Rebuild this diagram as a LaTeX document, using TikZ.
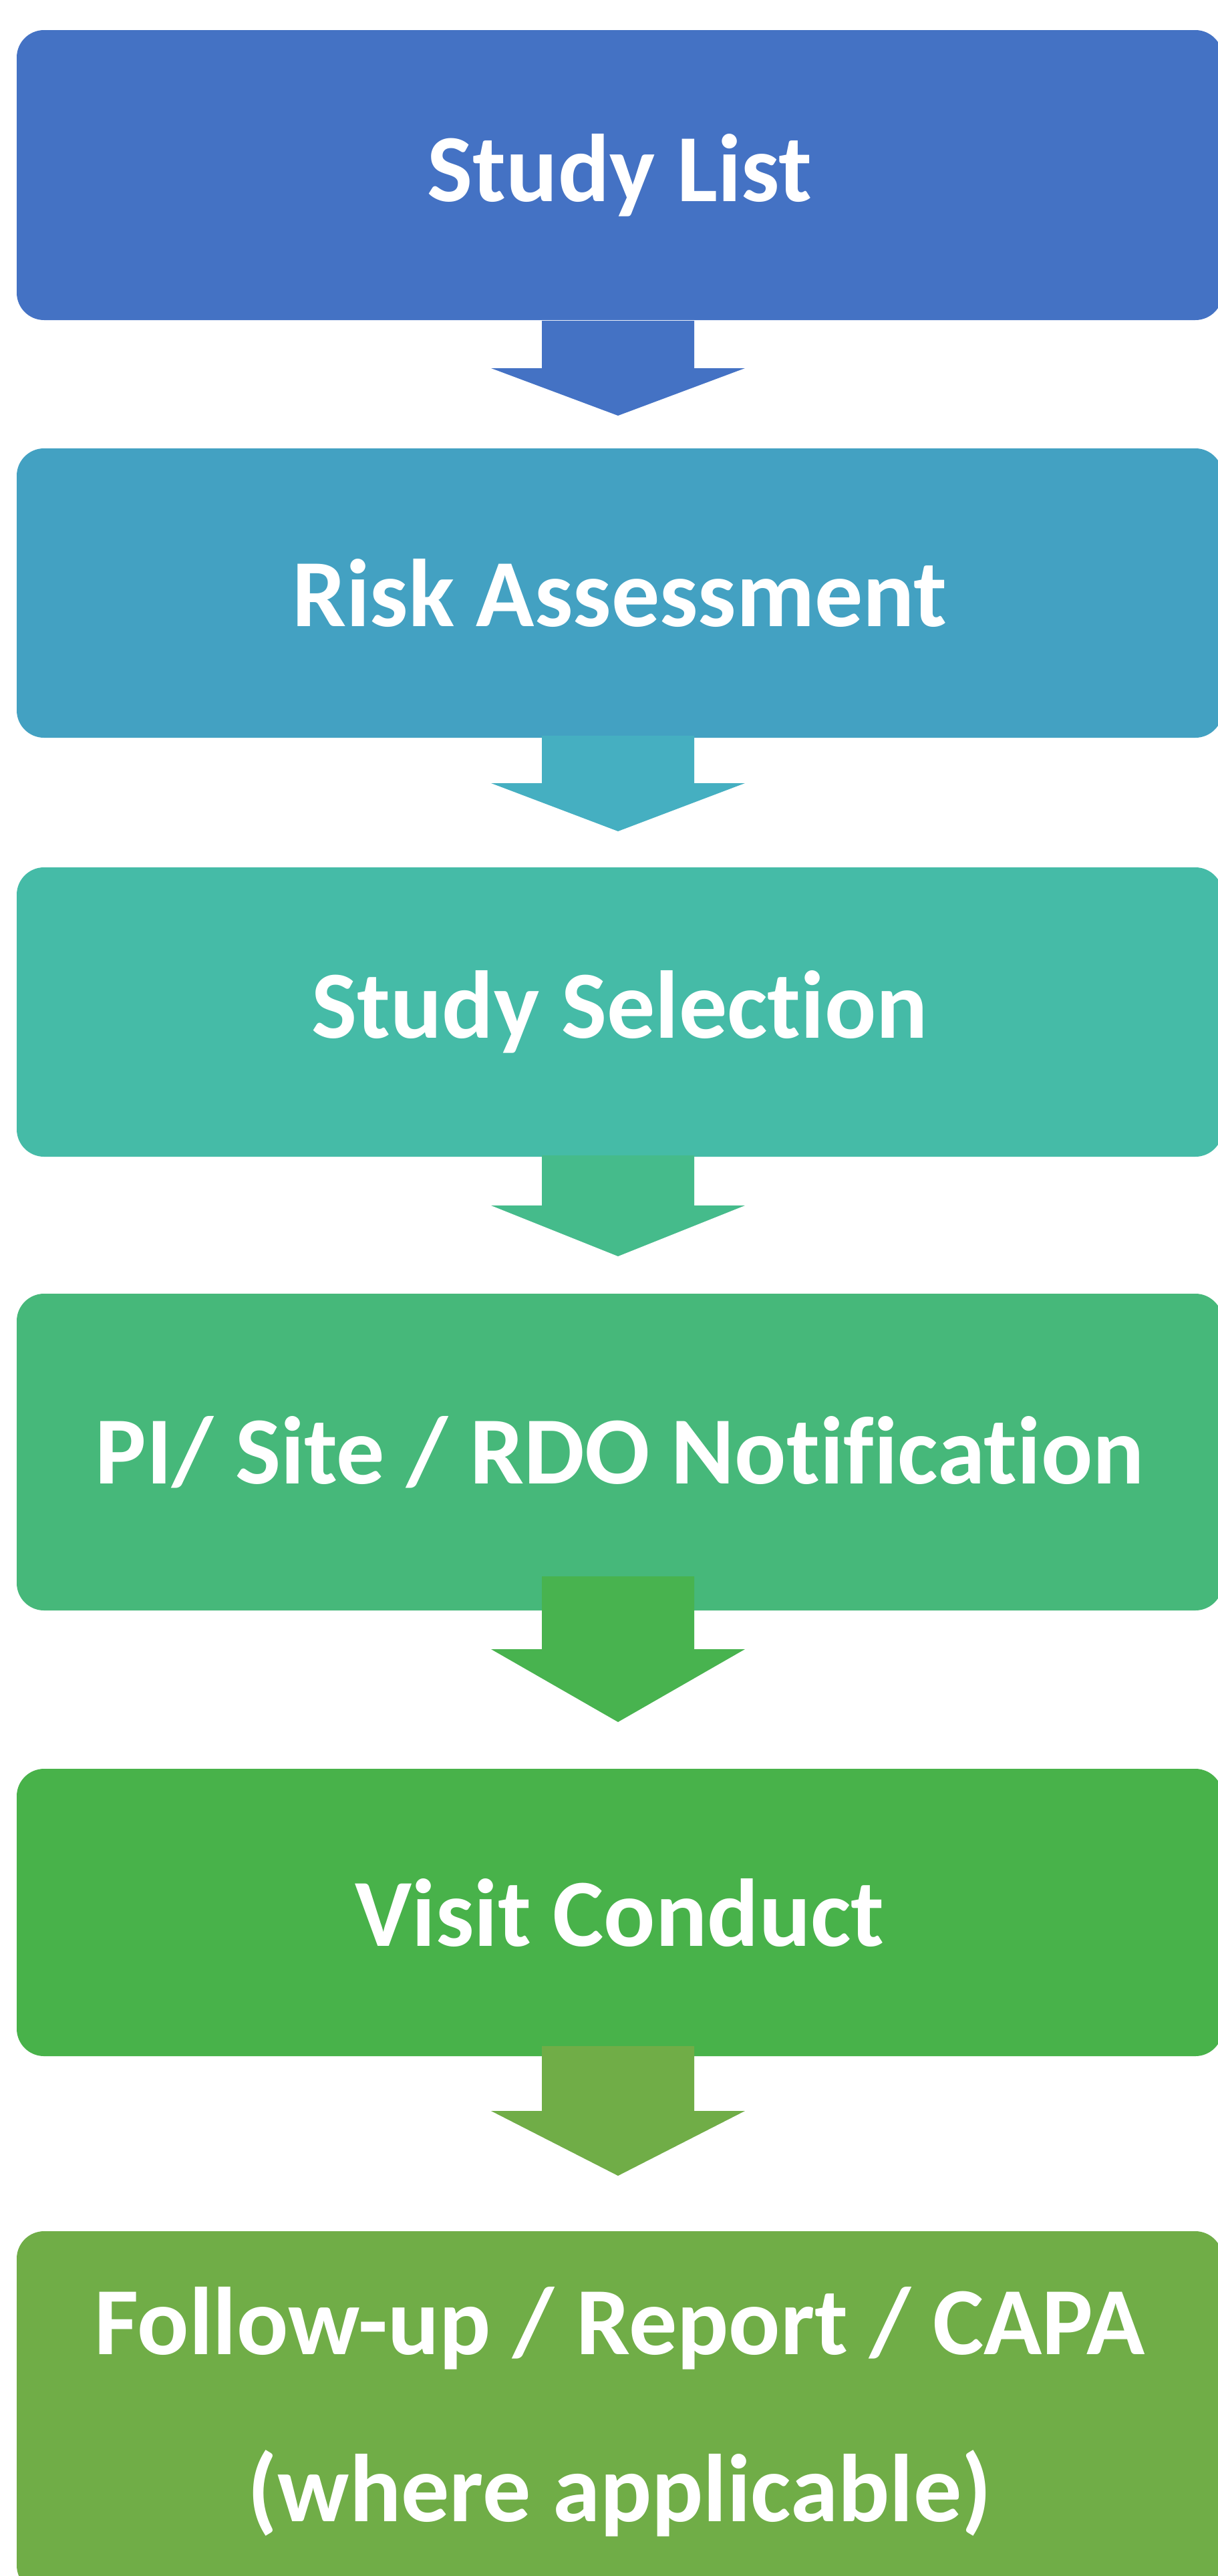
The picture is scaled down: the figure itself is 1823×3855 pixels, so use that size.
\documentclass[tikz,border=0pt]{standalone}
\usepackage{fontspec}
\setmainfont{Carlito}[Ligatures=NoCommon]
\definecolor{c1}{HTML}{4472C4}
\definecolor{c2}{HTML}{43A1C2}
\definecolor{c3}{HTML}{45BBA7}
\definecolor{c4}{HTML}{46B87A}
\definecolor{c5}{HTML}{48B24A}
\definecolor{c6}{HTML}{70AD47}
\definecolor{a2}{HTML}{45AFC1}
\definecolor{a3}{HTML}{45BB8B}
\definecolor{a4}{HTML}{48B34F}
\definecolor{a5}{HTML}{70AD47}
\tikzset{
  stepbox/.style={rounded corners=20.5pt, minimum width=902.5pt, inner sep=0pt,
    text=white, font=\fontsize{72}{125}\selectfont\bfseries, align=center},
}
\newcommand{\blockarrow}[4]{% color, top, shoulder, tip
  \fill[#1] (811,#2) -- (1039,#2) -- (1039,#3) -- (1115,#3) -- (925,#4) -- (735,#3) -- (811,#3) -- cycle;
}
\begin{document}
\begin{tikzpicture}[x=0.5pt,y=-0.5pt]
\useasboundingbox (0,0) rectangle (1823,3855);
\node[stepbox, fill=c1, minimum height=217pt] (b1) at (927.5,262) {Study List};
\node[stepbox, fill=c2, minimum height=216.5pt] (b2) at (927.5,887.5) {Risk Assessment};
\node[stepbox, fill=c3, minimum height=216.5pt] (b3) at (927.5,1514.5) {Study Selection};
\node[stepbox, fill=c4, minimum height=237pt] (b4) at (927.5,2173) {PI/ Site / RDO Notification};
\node[stepbox, fill=c5, minimum height=215pt] (b5) at (927.5,2862) {Visit Conduct};
\node[stepbox, fill=c6, minimum height=270.5pt] (b6) at (927.5,3609.5) {Follow-up / Report / CAPA\\(where applicable)};
\blockarrow{c1}{480}{551}{622}
\blockarrow{a2}{1101}{1172}{1244}
\blockarrow{a3}{1729}{1804}{1880}
\blockarrow{a4}{2359}{2468}{2577}
\blockarrow{a5}{3062}{3159}{3256}
\end{tikzpicture}
\end{document}
